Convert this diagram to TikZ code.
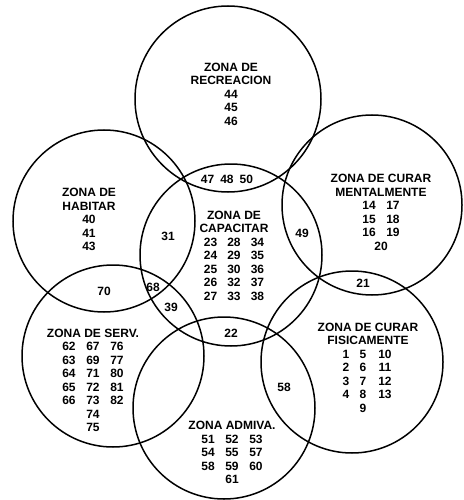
\documentclass[tikz,border=0pt]{standalone}
\usepackage{fontspec}
\setmainfont{Liberation Sans}
\newcommand\zfont{\fontsize{12}{13.5}\selectfont\bfseries}
\newcommand\rowc[4]{\makebox[#1]{#2}\makebox[#1]{#3}\makebox[#1]{#4}}
\newcommand\rowf[3]{\makebox[17pt]{#1}\makebox[17pt]{#2}\makebox[27pt]{#3}}
\begin{document}
\begin{tikzpicture}[x=1pt,y=-1pt,
  zone/.style={circle,draw=black,line width=1.5pt,inner sep=0pt,minimum size=#1},
  zt/.style={align=center,font=\zfont,inner sep=0pt,text=black},
  it/.style={font=\zfont,inner sep=0pt,text=black}]
\useasboundingbox[fill=white] (0,0) rectangle (463,500);
% circles
\node[zone=186pt] (rec) at (228,99) {};
\node[zone=182pt] (hab) at (104,221) {};
\node[zone=180pt] (men) at (372,205) {};
\node[zone=182pt] (cap) at (231,255) {};
\node[zone=182pt] (serv) at (113,356) {};
\node[zone=182pt] (adm) at (224,408) {};
\node[zone=182pt] (fis) at (352,362) {};
% zone texts
\node[zt] (recT) at (231,94) {ZONA DE\\RECREACION\\44\\45\\46};
\node[zt] (habT) at (89,219.5) {ZONA DE\\HABITAR\\40\\41\\43};
\node[zt] (capT) at (234,255.5) {ZONA DE\\CAPACITAR\\
  \rowc{23.5pt}{23}{28}{34}\\\rowc{23.5pt}{24}{29}{35}\\\rowc{23.5pt}{25}{30}{36}\\
  \rowc{23.5pt}{26}{32}{37}\\\rowc{23.5pt}{27}{33}{38}};
\node[zt] (menT) at (381,212.5) {ZONA DE CURAR\\MENTALMENTE\\
  \makebox[24pt]{14}\makebox[24pt]{17}\\\makebox[24pt]{15}\makebox[24pt]{18}\\
  \makebox[24pt]{16}\makebox[24pt]{19}\\20};
\node[zt] (servT) at (93,380.5) {ZONA DE SERV.\\
  \rowc{24pt}{62}{67}{76}\\\rowc{24pt}{63}{69}{77}\\\rowc{24pt}{64}{71}{80}\\
  \rowc{24pt}{65}{72}{81}\\\rowc{24pt}{66}{73}{82}\\74\\75};
\node[zt] (admT) at (232,452.5) {ZONA ADMIVA.\\
  \rowc{24pt}{51}{52}{53}\\\rowc{24pt}{54}{55}{57}\\\rowc{24pt}{58}{59}{60}\\61};
\node[zt] (fisT) at (368,367.5) {ZONA DE CURAR\\FISICAMENTE\\
  \rowf{1}{5}{10}\\\rowf{2}{6}{11}\\\rowf{3}{7}{12}\\\rowf{4}{8}{13}\\\rowf{}{9}{}};
% intersection labels
\node[it] (i474850) at (227,179) {47\hspace{6pt}48\hspace{6pt}50};
\node[it] (i31) at (168,236) {31};
\node[it] (i49) at (302,233) {49};
\node[it] (i70) at (104,291) {70};
\node[it] (i68) at (153,287) {68};
\node[it] (i39) at (171,307) {39};
\node[it] (i22) at (231,333) {22};
\node[it] (i21) at (363,283) {21};
\node[it] (i58) at (284,387) {58};
\end{tikzpicture}
\end{document}
